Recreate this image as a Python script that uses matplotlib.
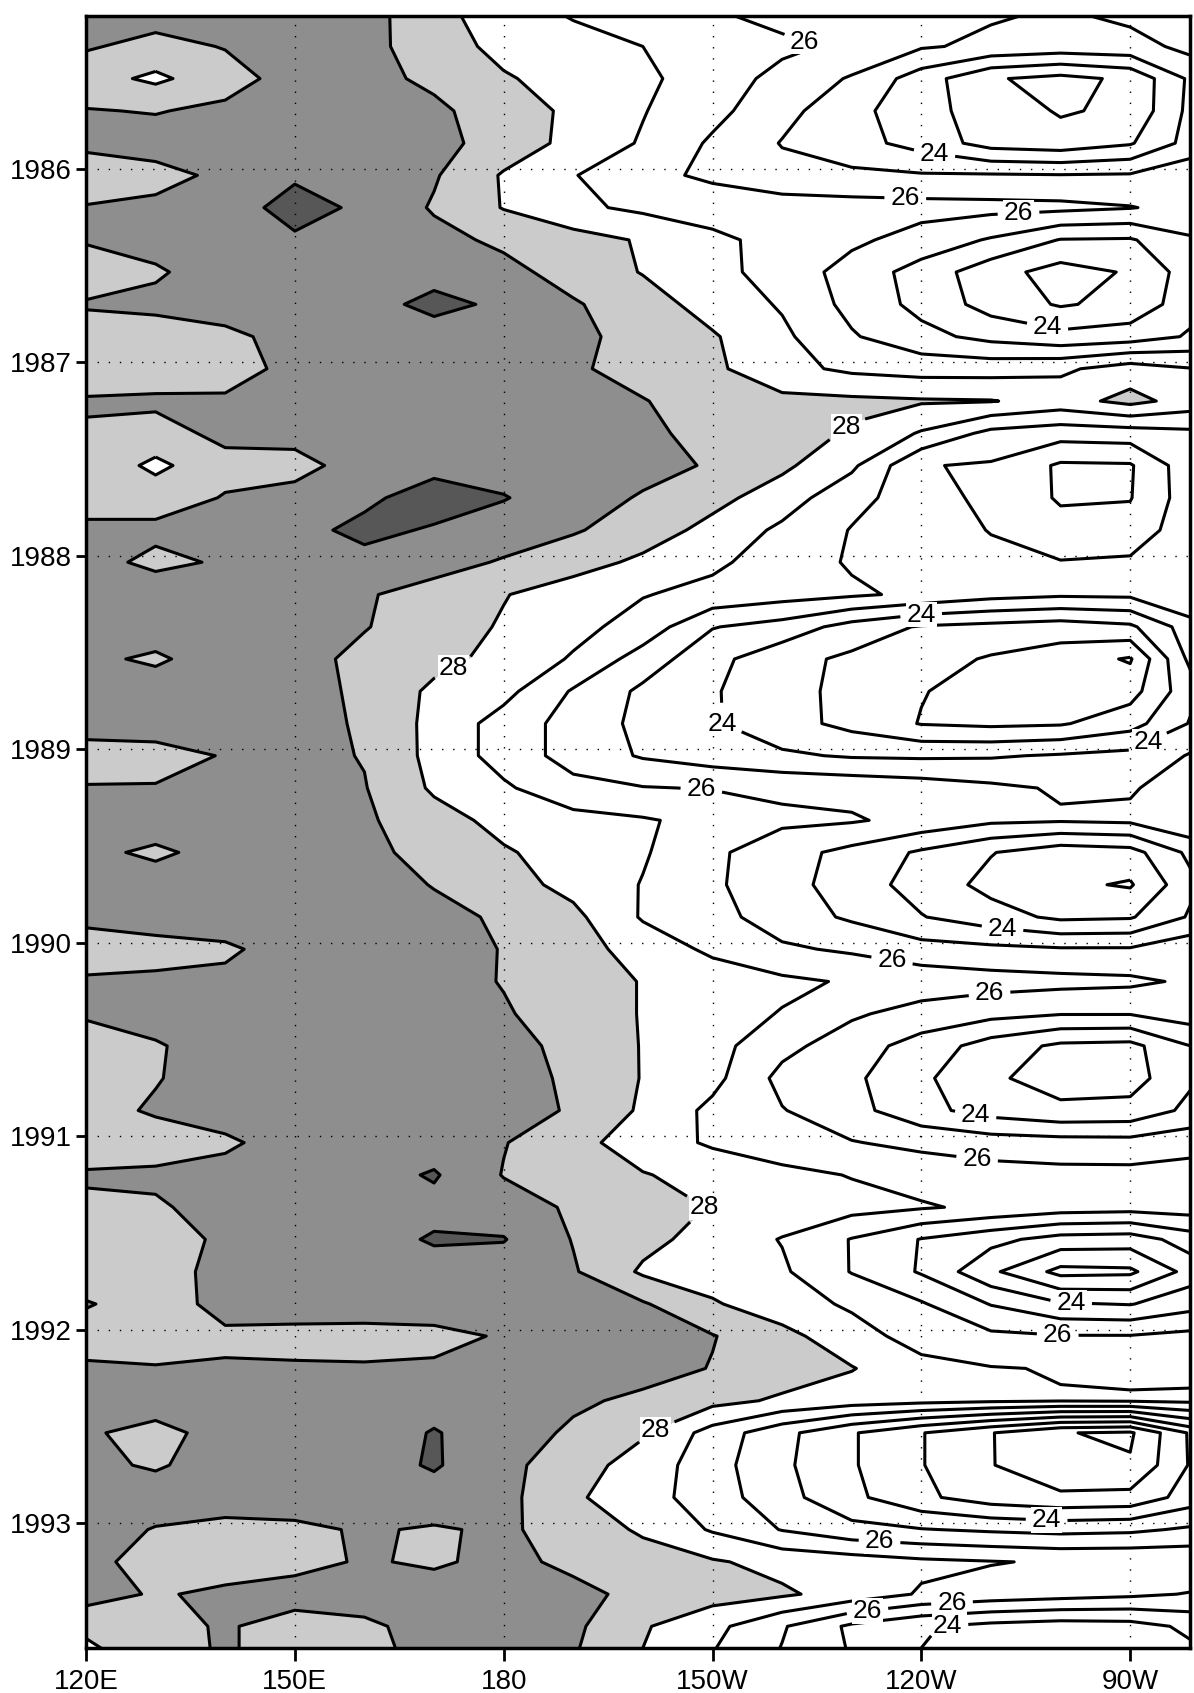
import numpy as np
import matplotlib
matplotlib.use("Agg")
import matplotlib.pyplot as plt

plt.rcParams['font.family'] = ['Liberation Sans', 'DejaVu Sans']

# longitude nodes (degrees east) and bi-monthly time nodes (decimal year)
lons = [120, 130, 140, 150, 160, 170, 180, 190, 200, 210, 220, 230, 240, 250, 260, 270, 280]
years = [1985.200, 1985.367, 1985.533, 1985.700, 1985.867, 1986.033, 1986.200, 1986.367,
         1986.533, 1986.700, 1986.867, 1987.033, 1987.200, 1987.367, 1987.533, 1987.700,
         1987.867, 1988.033, 1988.200, 1988.367, 1988.533, 1988.700, 1988.867, 1989.033,
         1989.200, 1989.367, 1989.533, 1989.700, 1989.867, 1990.033, 1990.200, 1990.367,
         1990.533, 1990.700, 1990.867, 1991.033, 1991.200, 1991.367, 1991.533, 1991.700,
         1991.867, 1992.033, 1992.200, 1992.367, 1992.533, 1992.700, 1992.867, 1993.033,
         1993.200, 1993.367, 1993.533, 1993.700]

# equatorial SST (deg C), one row per time node
sst = [
    [29.4, 29.4, 29.4, 29.4, 29.4, 28.3, 27.5, 26.9, 26.5, 26.1, 25.7, 25.4, 25.2, 25.1, 24.9, 25.2, 25.6],
    [29.1, 28.7, 29.05, 29.4, 29.3, 28.5, 27.7, 27.4, 27.0, 26.6, 26.2, 25.8, 25.1, 24.8, 24.6, 24.7, 25.3],
    [28.4, 27.8, 28.6, 29.4, 29.3, 28.8, 28.1, 27.6, 27.2, 26.5, 25.7, 24.9, 23.5, 22.1, 21.7, 22.2, 24.5],
    [29.05, 28.95, 29.2, 29.4, 29.4, 29.2, 28.5, 27.8, 27.05, 26.3, 25.3, 24.35, 23.3, 22.6, 21.9, 22.2, 24.6],
    [29.2, 29.4, 29.4, 29.4, 29.4, 29.3, 28.6, 27.7, 26.9, 25.85, 24.95, 24.4, 23.6, 22.6, 22.4, 22.9, 24.6],
    [28.5, 28.7, 29.2, 29.85, 29.5, 29.1, 27.9, 27.05, 26.3, 25.8, 25.3, 25.2, 25.1, 25.1, 25.05, 25.1, 25.6],
    [29.05, 29.2, 29.5, 30.4, 29.8, 28.9, 27.95, 27.2, 26.8, 26.6, 26.5, 26.4, 26.35, 26.3, 26.25, 26.05, 25.6],
    [29.1, 29.3, 29.4, 29.85, 29.5, 29.3, 28.8, 28.4, 27.9, 27.2, 26.7, 26.2, 25.6, 24.9, 23.95, 23.9, 24.95],
    [28.4, 28.9, 29.4, 29.5, 29.5, 29.6, 29.3, 28.6, 27.95, 27.3, 26.6, 25.6, 24.6, 23.4, 22.6, 23.1, 24.7],
    [29.1, 29.2, 29.4, 29.5, 29.6, 30.3, 29.8, 29.1, 28.45, 27.6, 26.9, 25.7, 24.7, 23.6, 22.9, 23.3, 24.8],
    [28.5, 28.6, 28.8, 29.3, 29.5, 29.5, 29.45, 29.2, 28.7, 28.1, 27.2, 26.1, 25.3, 24.7, 24.3, 24.5, 25.2],
    [28.4, 28.5, 28.7, 29.2, 29.5, 29.5, 29.4, 29.15, 28.6, 28.2, 27.3, 26.8, 26.6, 26.6, 26.8, 27.5, 27.0],
    [29.1, 29.15, 29.1, 29.3, 29.5, 29.55, 29.5, 29.3, 29.05, 28.5, 28.25, 28.2, 28.1, 28.05, 27.6, 28.3, 27.5],
    [28.9, 28.7, 29.2, 29.3, 29.5, 29.6, 29.6, 29.5, 29.2, 28.7, 28.4, 27.9, 26.9, 25.7, 25.4, 25.5, 25.8],
    [28.8, 27.75, 28.75, 28.7, 29.4, 29.7, 29.6, 29.6, 29.35, 28.9, 28.2, 27.2, 25.05, 24.9, 23.85, 23.9, 25.9],
    [28.8, 28.6, 29.05, 29.3, 29.8, 30.45, 30.05, 29.5, 28.9, 28.3, 27.5, 26.3, 25.5, 24.7, 23.9, 23.95, 25.8],
    [29.1, 29.2, 29.4, 29.7, 30.25, 29.9, 29.55, 29.1, 28.5, 27.7, 26.8, 25.95, 25.6, 24.95, 24.3, 24.4, 25.8],
    [29.3, 28.8, 29.1, 29.5, 29.7, 29.4, 28.9, 28.4, 27.8, 27.2, 26.5, 25.9, 25.6, 25.3, 25.05, 25.15, 26.0],
    [29.4, 29.5, 29.5, 29.4, 29.1, 28.6, 28.05, 27.5, 27.05, 26.7, 26.4, 26.15, 25.8, 25.35, 25.15, 25.2, 25.8],
    [29.4, 29.5, 29.5, 29.5, 29.05, 28.5, 27.9, 27.3, 26.6, 25.05, 24.6, 23.6, 22.9, 22.7, 22.5, 22.8, 24.8],
    [29.2, 28.85, 29.5, 29.35, 28.75, 28.3, 27.7, 26.9, 25.55, 24.3, 23.35, 22.8, 22.4, 21.9, 21.5, 20.9, 24.8],
    [29.4, 29.5, 29.5, 29.4, 28.8, 27.8, 27.3, 25.9, 24.8, 24.1, 23.3, 22.75, 22.05, 21.6, 21.5, 21.6, 24.0],
    [29.4, 29.4, 29.5, 29.3, 28.9, 27.7, 26.6, 25.6, 24.75, 24.1, 23.4, 22.7, 21.95, 21.8, 21.9, 22.6, 24.3],
    [28.6, 28.7, 29.05, 29.3, 28.95, 27.7, 26.6, 25.6, 24.9, 24.5, 24.15, 23.9, 23.85, 23.9, 24.1, 24.3, 25.2],
    [29.05, 29.05, 29.2, 29.4, 29.05, 27.85, 27.15, 26.3, 26.05, 25.95, 25.8, 25.7, 25.5, 25.2, 24.9, 24.9, 25.6],
    [29.4, 29.45, 29.5, 29.5, 29.15, 28.4, 27.7, 27.35, 27.1, 26.7, 26.2, 26.1, 25.7, 25.2, 25.1, 25.2, 25.8],
    [29.2, 28.85, 29.3, 29.5, 29.3, 28.6, 28.1, 27.6, 27.1, 26.2, 25.4, 24.7, 23.85, 23.05, 22.4, 22.6, 24.5],
    [29.4, 29.4, 29.5, 29.5, 29.5, 28.95, 28.4, 27.7, 26.95, 26.15, 25.4, 24.5, 23.6, 22.7, 22.2, 21.9, 24.0],
    [29.2, 29.4, 29.5, 29.5, 29.5, 29.3, 28.85, 28.25, 26.9, 26.35, 25.5, 24.85, 24.05, 23.4, 22.8, 22.9, 24.3],
    [28.6, 28.7, 28.85, 29.4, 29.5, 29.5, 28.95, 28.4, 27.6, 26.8, 26.15, 25.85, 25.4, 25.25, 25.1, 25.1, 25.7],
    [29.1, 29.15, 29.2, 29.5, 29.5, 29.4, 28.95, 28.5, 27.95, 27.55, 27.2, 26.9, 26.6, 26.4, 26.3, 26.2, 25.8],
    [29.1, 29.45, 29.5, 29.5, 29.5, 29.45, 29.1, 28.5, 27.95, 27.4, 26.95, 26.15, 25.6, 25.3, 25.05, 25.05, 25.5],
    [28.6, 28.9, 29.5, 29.5, 29.5, 29.45, 29.3, 28.75, 27.95, 27.35, 26.3, 25.45, 24.6, 23.55, 22.8, 22.7, 24.2],
    [28.6, 28.95, 29.4, 29.5, 29.5, 29.5, 29.35, 28.85, 27.95, 27.3, 25.7, 25.2, 24.2, 23.15, 22.6, 22.6, 24.0],
    [28.7, 29.1, 29.4, 29.5, 29.5, 29.5, 29.4, 28.9, 27.85, 26.75, 26.05, 25.35, 24.3, 23.6, 23.2, 23.3, 24.4],
    [28.5, 28.6, 28.85, 29.4, 29.5, 29.5, 29.05, 28.3, 27.55, 26.85, 26.35, 26.05, 25.75, 25.5, 25.4, 25.35, 25.6],
    [29.1, 29.15, 29.3, 29.5, 29.6, 30.1, 28.95, 28.6, 28.05, 27.7, 27.3, 26.95, 26.6, 26.4, 26.3, 26.3, 26.5],
    [28.85, 28.9, 29.3, 29.5, 29.6, 29.7, 29.5, 28.85, 28.4, 27.95, 27.6, 27.35, 27.1, 26.8, 26.5, 26.4, 26.5],
    [28.4, 28.5, 29.2, 29.5, 29.6, 30.1, 30.05, 28.95, 28.3, 27.6, 26.95, 25.95, 24.95, 24.3, 23.6, 23.5, 24.6],
    [28.6, 28.6, 29.3, 29.5, 29.55, 29.6, 29.5, 29.1, 27.85, 27.55, 27.15, 25.95, 24.9, 23.2, 21.7, 21.8, 23.6],
    [29.05, 28.7, 29.2, 29.5, 29.6, 29.6, 29.55, 29.35, 29.1, 28.1, 27.45, 26.85, 26.1, 24.95, 24.1, 23.95, 24.7],
    [28.7, 28.6, 28.9, 28.7, 28.6, 28.7, 29.1, 29.5, 29.4, 29.05, 28.3, 27.4, 26.6, 26.2, 26.05, 26.05, 26.3],
    [29.1, 29.05, 29.05, 29.1, 29.1, 29.15, 29.3, 29.5, 29.45, 28.95, 28.5, 28.05, 27.3, 27.05, 26.95, 26.8, 26.7],
    [29.3, 29.4, 29.5, 29.5, 29.55, 29.7, 29.5, 29.2, 28.75, 28.3, 27.85, 27.5, 27.3, 27.15, 27.05, 27.1, 27.2],
    [29.1, 28.75, 29.3, 29.5, 29.6, 30.05, 29.6, 28.8, 28.1, 26.6, 25.3, 24.1, 23.05, 22.05, 21.05, 20.85, 23.5],
    [29.2, 28.9, 29.4, 29.5, 29.6, 30.1, 29.3, 28.4, 27.6, 26.4, 25.2, 24.1, 23.05, 22.05, 21.2, 21.1, 23.4],
    [29.4, 29.45, 29.5, 29.5, 29.55, 29.6, 29.3, 28.15, 27.4, 26.5, 25.35, 24.25, 23.2, 22.5, 22.2, 22.3, 23.6],
    [29.4, 28.95, 28.7, 28.8, 29.1, 28.9, 29.15, 28.6, 27.85, 26.9, 25.95, 25.3, 25.05, 24.85, 24.7, 24.8, 25.2],
    [29.3, 28.6, 28.5, 28.7, 29.1, 28.85, 29.3, 28.75, 28.45, 28.1, 27.7, 27.5, 27.2, 27.05, 26.9, 26.9, 26.8],
    [29.4, 28.9, 29.2, 29.4, 29.5, 29.5, 29.5, 29.3, 28.7, 28.4, 28.15, 27.6, 26.9, 26.6, 26.4, 26.2, 25.9],
    [28.3, 28.7, 29.1, 28.6, 28.8, 29.4, 29.5, 29.2, 28.1, 27.3, 26.1, 24.8, 24.1, 23.7, 23.5, 23.6, 24.3],
    [27.5, 28.6, 29.1, 28.6, 28.7, 29.3, 29.5, 29.05, 27.95, 26.95, 25.9, 24.95, 23.95, 23.2, 22.8, 22.9, 23.8],
]

xtick_pos = [120, 150, 180, 210, 240, 270]
xtick_labels = ["120E", "150E", "180", "150W", "120W", "90W"]
ytick_pos = [1986, 1987, 1988, 1989, 1990, 1991, 1992, 1993]
ytick_labels = ["1986", "1987", "1988", "1989", "1990", "1991", "1992", "1993"]

shade_levels = [15, 28, 29, 30, 35]
shade_colors = ["white", "#cbcbcb", "#8e8e8e", "#575757"]
plain_levels = [21, 22, 23, 25, 27, 29, 30]
label_levels = [24, 26, 28]
# where the 24/26/28 labels sit on the original (lon, year)
label_spots = [(223.7, 1985.29), (241.7, 1985.97), (237.7, 1986.14), (254, 1986.26),
               (258, 1986.84), (230, 1987.37), (239.5, 1988.14), (172, 1988.53),
               (210, 1988.91), (272, 1988.92), (208.4, 1989.21), (251.6, 1989.95),
               (235.7, 1990.11), (250, 1990.33), (247.7, 1990.91), (248, 1991.12),
               (212.4, 1991.3), (261.5, 1991.87), (259.6, 1992.02), (201.8, 1992.52),
               (258, 1992.98), (234, 1993.09), (231.8, 1993.31), (244.4, 1993.41),
               (243.8, 1993.56)]

fig = plt.figure(figsize=(11.94, 16.93), dpi=100)
ax = fig.add_axes([0.072, 0.0266, 0.9247, 0.9639])

ax.contourf(lons, years, sst, levels=shade_levels, colors=shade_colors)
ax.contour(lons, years, sst, levels=plain_levels, colors="black", linewidths=2.2)
cs = ax.contour(lons, years, sst, levels=label_levels, colors="black", linewidths=2.2)
labels = ax.clabel(cs, manual=label_spots, fmt="%d", inline=True, fontsize=19, inline_spacing=6)
for lab in labels:
    lab.set_rotation(0)
    lab.set_bbox(dict(facecolor="white", edgecolor="none", pad=0.5))

ax.set_xlim(120, 278.6)
ax.set_ylim(1993.645, 1985.21)
ax.set_xticks(xtick_pos)
ax.set_xticklabels(xtick_labels)
ax.set_yticks(ytick_pos)
ax.set_yticklabels(ytick_labels)
ax.grid(True, color="black", linestyle=(0, (1, 7)), linewidth=1.0)

ax.tick_params(axis="x", direction="out", length=9, width=2, labelsize=20, pad=6, top=False)
ax.tick_params(axis="y", direction="out", length=7, width=2, labelsize=20, pad=3, right=False)
for side in ["left", "bottom", "top", "right"]:
    ax.spines[side].set_linewidth(2.5)

fig.savefig("out.png", dpi=100)
